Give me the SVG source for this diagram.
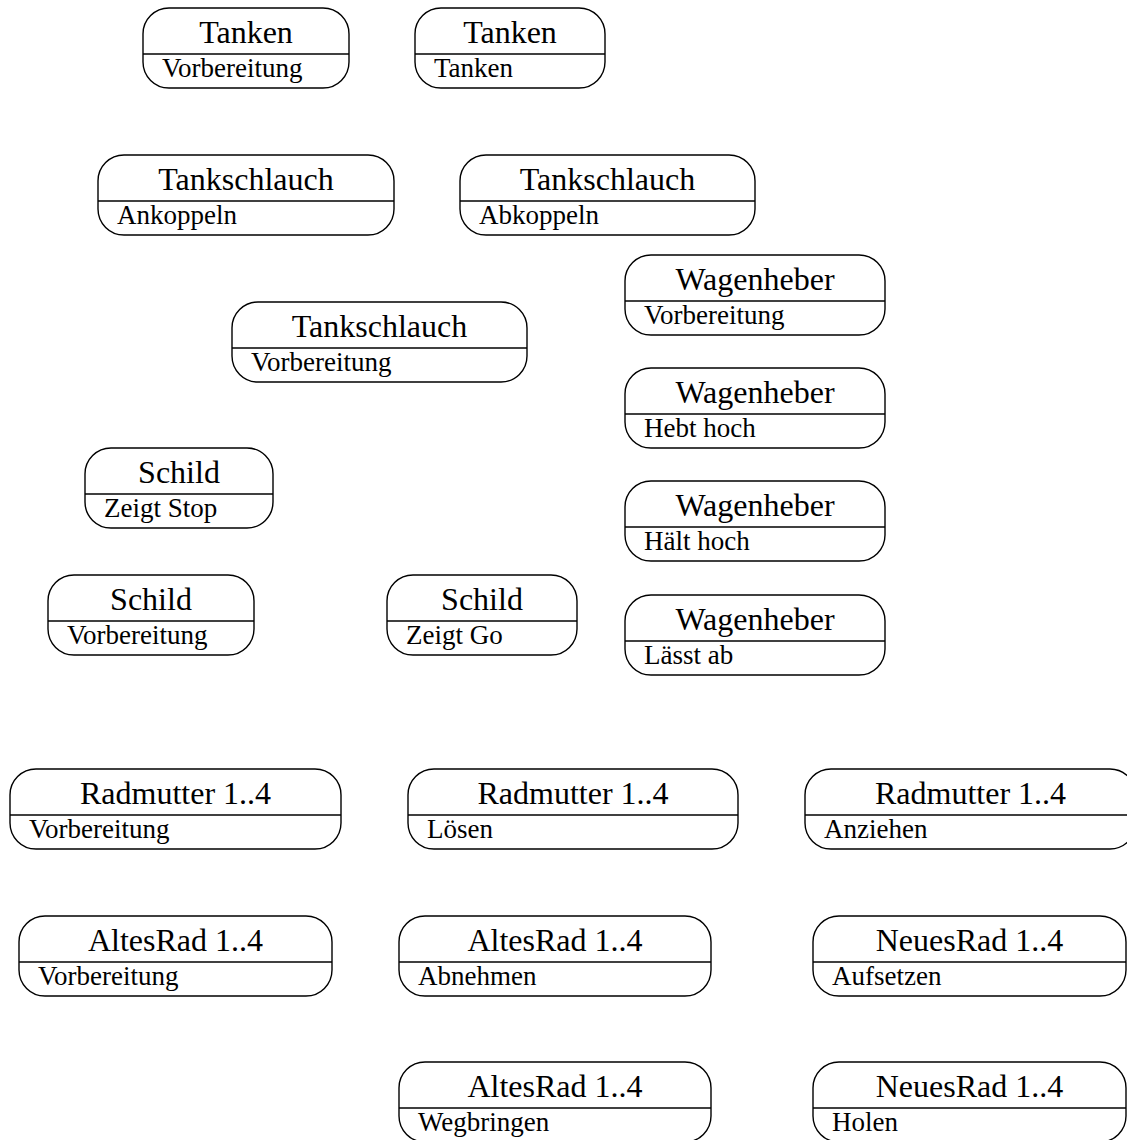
<svg xmlns="http://www.w3.org/2000/svg" width="1127" height="1140" viewBox="0 0 1127 1140">
  <style>
    .box { fill: #ffffff; stroke: #000000; stroke-width: 1.4; }
    .sep { stroke: #000000; stroke-width: 1.4; }
    .title { font-size: 32px; fill: #000000; text-anchor: middle; }
    .state { font-size: 27px; fill: #000000; }
  </style>
  <rect width="1127" height="1140" fill="#ffffff"/>

  <!-- object states: rounded box, object name on top, state below the separator -->
  <g font-family="Liberation Serif, DejaVu Serif, serif">
  <g id="tanken-vorbereitung" transform="translate(143,8)">
    <rect class="box" width="206" height="80" rx="26"/>
    <line class="sep" x1="0" y1="46" x2="206" y2="46"/>
    <text class="title" x="103" y="35">Tanken</text>
    <text class="state" x="19" y="69">Vorbereitung</text>
  </g>
  <g id="tanken-tanken" transform="translate(415,8)">
    <rect class="box" width="190" height="80" rx="26"/>
    <line class="sep" x1="0" y1="46" x2="190" y2="46"/>
    <text class="title" x="95" y="35">Tanken</text>
    <text class="state" x="19" y="69">Tanken</text>
  </g>

  <g id="tankschlauch-ankoppeln" transform="translate(98,155)">
    <rect class="box" width="296" height="80" rx="26"/>
    <line class="sep" x1="0" y1="46" x2="296" y2="46"/>
    <text class="title" x="148" y="35">Tankschlauch</text>
    <text class="state" x="19" y="69">Ankoppeln</text>
  </g>
  <g id="tankschlauch-abkoppeln" transform="translate(460,155)">
    <rect class="box" width="295" height="80" rx="26"/>
    <line class="sep" x1="0" y1="46" x2="295" y2="46"/>
    <text class="title" x="147.5" y="35">Tankschlauch</text>
    <text class="state" x="19" y="69">Abkoppeln</text>
  </g>
  <g id="tankschlauch-vorbereitung" transform="translate(232,302)">
    <rect class="box" width="295" height="80" rx="26"/>
    <line class="sep" x1="0" y1="46" x2="295" y2="46"/>
    <text class="title" x="147.5" y="35">Tankschlauch</text>
    <text class="state" x="19" y="69">Vorbereitung</text>
  </g>

  <g id="wagenheber-vorbereitung" transform="translate(625,255)">
    <rect class="box" width="260" height="80" rx="26"/>
    <line class="sep" x1="0" y1="46" x2="260" y2="46"/>
    <text class="title" x="130" y="35">Wagenheber</text>
    <text class="state" x="19" y="69">Vorbereitung</text>
  </g>
  <g id="wagenheber-hebt-hoch" transform="translate(625,368)">
    <rect class="box" width="260" height="80" rx="26"/>
    <line class="sep" x1="0" y1="46" x2="260" y2="46"/>
    <text class="title" x="130" y="35">Wagenheber</text>
    <text class="state" x="19" y="69">Hebt hoch</text>
  </g>
  <g id="wagenheber-haelt-hoch" transform="translate(625,481)">
    <rect class="box" width="260" height="80" rx="26"/>
    <line class="sep" x1="0" y1="46" x2="260" y2="46"/>
    <text class="title" x="130" y="35">Wagenheber</text>
    <text class="state" x="19" y="69">Hält hoch</text>
  </g>
  <g id="wagenheber-laesst-ab" transform="translate(625,595)">
    <rect class="box" width="260" height="80" rx="26"/>
    <line class="sep" x1="0" y1="46" x2="260" y2="46"/>
    <text class="title" x="130" y="35">Wagenheber</text>
    <text class="state" x="19" y="69">Lässt ab</text>
  </g>

  <g id="schild-zeigt-stop" transform="translate(85,448)">
    <rect class="box" width="188" height="80" rx="26"/>
    <line class="sep" x1="0" y1="46" x2="188" y2="46"/>
    <text class="title" x="94" y="35">Schild</text>
    <text class="state" x="19" y="69">Zeigt Stop</text>
  </g>
  <g id="schild-vorbereitung" transform="translate(48,575)">
    <rect class="box" width="206" height="80" rx="26"/>
    <line class="sep" x1="0" y1="46" x2="206" y2="46"/>
    <text class="title" x="103" y="35">Schild</text>
    <text class="state" x="19" y="69">Vorbereitung</text>
  </g>
  <g id="schild-zeigt-go" transform="translate(387,575)">
    <rect class="box" width="190" height="80" rx="26"/>
    <line class="sep" x1="0" y1="46" x2="190" y2="46"/>
    <text class="title" x="95" y="35">Schild</text>
    <text class="state" x="19" y="69">Zeigt Go</text>
  </g>

  <g id="radmutter-vorbereitung" transform="translate(10,769)">
    <rect class="box" width="331" height="80" rx="26"/>
    <line class="sep" x1="0" y1="46" x2="331" y2="46"/>
    <text class="title" x="165.5" y="35">Radmutter 1..4</text>
    <text class="state" x="19" y="69">Vorbereitung</text>
  </g>
  <g id="radmutter-loesen" transform="translate(408,769)">
    <rect class="box" width="330" height="80" rx="26"/>
    <line class="sep" x1="0" y1="46" x2="330" y2="46"/>
    <text class="title" x="165" y="35">Radmutter 1..4</text>
    <text class="state" x="19" y="69">Lösen</text>
  </g>
  <g id="radmutter-anziehen" transform="translate(805,769)">
    <rect class="box" width="331" height="80" rx="26"/>
    <line class="sep" x1="0" y1="46" x2="331" y2="46"/>
    <text class="title" x="165.5" y="35">Radmutter 1..4</text>
    <text class="state" x="19" y="69">Anziehen</text>
  </g>

  <g id="altesrad-vorbereitung" transform="translate(19,916)">
    <rect class="box" width="313" height="80" rx="26"/>
    <line class="sep" x1="0" y1="46" x2="313" y2="46"/>
    <text class="title" x="156.5" y="35">AltesRad 1..4</text>
    <text class="state" x="19" y="69">Vorbereitung</text>
  </g>
  <g id="altesrad-abnehmen" transform="translate(399,916)">
    <rect class="box" width="312" height="80" rx="26"/>
    <line class="sep" x1="0" y1="46" x2="312" y2="46"/>
    <text class="title" x="156" y="35">AltesRad 1..4</text>
    <text class="state" x="19" y="69">Abnehmen</text>
  </g>
  <g id="neuesrad-aufsetzen" transform="translate(813,916)">
    <rect class="box" width="313" height="80" rx="26"/>
    <line class="sep" x1="0" y1="46" x2="313" y2="46"/>
    <text class="title" x="156.5" y="35">NeuesRad 1..4</text>
    <text class="state" x="19" y="69">Aufsetzen</text>
  </g>
  <g id="altesrad-wegbringen" transform="translate(399,1062)">
    <rect class="box" width="312" height="80" rx="26"/>
    <line class="sep" x1="0" y1="46" x2="312" y2="46"/>
    <text class="title" x="156" y="35">AltesRad 1..4</text>
    <text class="state" x="19" y="69">Wegbringen</text>
  </g>
  <g id="neuesrad-holen" transform="translate(813,1062)">
    <rect class="box" width="313" height="80" rx="26"/>
    <line class="sep" x1="0" y1="46" x2="313" y2="46"/>
    <text class="title" x="156.5" y="35">NeuesRad 1..4</text>
    <text class="state" x="19" y="69">Holen</text>
  </g>
  </g>

  <!-- no transitions are drawn between these states -->
  <g id="connectors"></g>
</svg>
